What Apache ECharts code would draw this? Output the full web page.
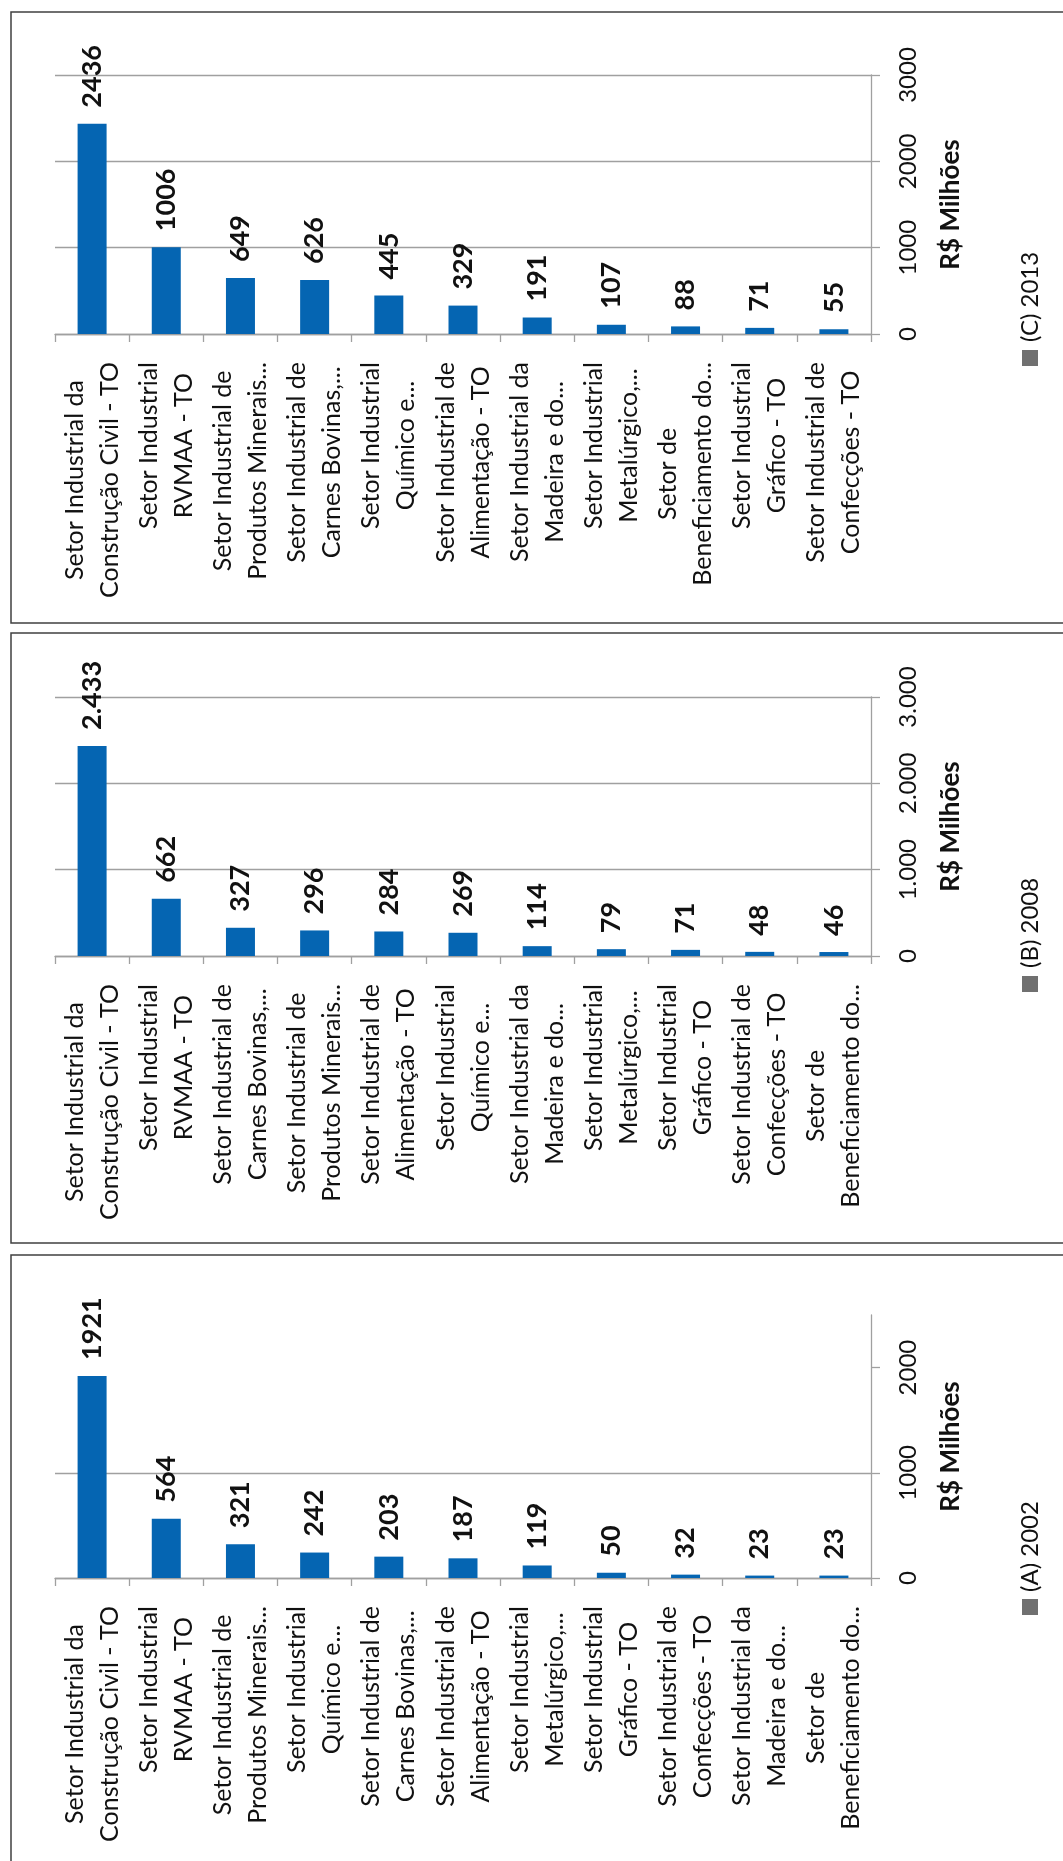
<!DOCTYPE html>
<html><head><meta charset="utf-8">
<script src="https://cdn.jsdelivr.net/npm/echarts@6/dist/echarts.min.js"></script>
<style>html,body{margin:0;padding:0;background:#fff}#c{width:1063px;height:1861px}</style>
</head><body><div id="c"></div>
<script>
// ---- data ----
const catsC = [
  "Setor Industrial da\nConstrução Civil - TO",
  "Setor Industrial\nRVMAA - TO",
  "Setor Industrial de\nProdutos Minerais...",
  "Setor Industrial de\nCarnes Bovinas,...",
  "Setor Industrial\nQuímico e...",
  "Setor Industrial de\nAlimentação - TO",
  "Setor Industrial da\nMadeira e do...",
  "Setor Industrial\nMetalúrgico,...",
  "Setor de\nBeneficiamento do...",
  "Setor Industrial\nGráfico - TO",
  "Setor Industrial de\nConfecções - TO"
];
const valsC = [2436, 1006, 649, 626, 445, 329, 191, 107, 88, 71, 55];

const catsB = [
  "Setor Industrial da\nConstrução Civil - TO",
  "Setor Industrial\nRVMAA - TO",
  "Setor Industrial de\nCarnes Bovinas,...",
  "Setor Industrial de\nProdutos Minerais...",
  "Setor Industrial de\nAlimentação - TO",
  "Setor Industrial\nQuímico e...",
  "Setor Industrial da\nMadeira e do...",
  "Setor Industrial\nMetalúrgico,...",
  "Setor Industrial\nGráfico - TO",
  "Setor Industrial de\nConfecções - TO",
  "Setor de\nBeneficiamento do..."
];
const valsB = [2433, 662, 327, 296, 284, 269, 114, 79, 71, 48, 46];

const catsA = [
  "Setor Industrial da\nConstrução Civil - TO",
  "Setor Industrial\nRVMAA - TO",
  "Setor Industrial de\nProdutos Minerais...",
  "Setor Industrial\nQuímico e...",
  "Setor Industrial de\nCarnes Bovinas,...",
  "Setor Industrial de\nAlimentação - TO",
  "Setor Industrial\nMetalúrgico,...",
  "Setor Industrial\nGráfico - TO",
  "Setor Industrial de\nConfecções - TO",
  "Setor Industrial da\nMadeira e do...",
  "Setor de\nBeneficiamento do..."
];
const valsA = [1921, 564, 321, 242, 203, 187, 119, 50, 32, 23, 23];

const seriesNames = ["(C) 2013", "(B) 2008", "(A) 2002"];
const axisName = "R$ Milhões";
const ticksC = [0, 1000, 2000, 3000];
const ticksB = [0, 1000, 2000, 3000];
const ticksA = [0, 1000, 2000];
const maxA = 2500;

// ---- style ----
const FONT = 'Lato';
const BAR = '#0565B2';
const GRID = '#A0A0A0';
const dotFmt = v => String(v).replace(/\B(?=(\d{3})+(?!\d))/g, '.');
const plainFmt = v => String(v);

const panels = [
  { name: seriesNames[0], cats: catsC, vals: valsC, ticks: ticksC, max: 3000, fmt: plainFmt, top: 75, height: 259, box: [11, 12, 611], leg: [342, 350] },
  { name: seriesNames[1], cats: catsB, vals: valsB, ticks: ticksB, max: 3000, fmt: dotFmt, top: 697, height: 259, box: [11, 633, 610], leg: [968, 976] },
  { name: seriesNames[2], cats: catsA, vals: valsA, ticks: ticksA, max: maxA, fmt: plainFmt, top: 1315, height: 263, box: [11, 1255, 700], leg: [1592, 1599] }
];

const grids = [], xAxes = [], yAxes = [], series = [], graphics = [];
panels.forEach((p, i) => {
  grids.push({ left: 55, width: 816, top: p.top, height: p.height, containLabel: false });
  xAxes.push({
    type: 'category', gridIndex: i, data: p.cats, boundaryGap: true,
    axisLine: { show: true, lineStyle: { color: GRID, width: 1.3 } },
    axisTick: { show: true, length: 8, lineStyle: { color: GRID, width: 1.3 } },
    axisLabel: {
      interval: 0, rotate: 90, margin: 28, color: '#111',
      formatter: v => v.split('\n').map(s => '{c|' + s + '}').join('\n'),
      rich: { c: { align: 'center', fontFamily: FONT, fontSize: 25, lineHeight: 35, color: '#111' } }
    }
  });
  yAxes.push({
    type: 'value', gridIndex: i, position: 'right', min: 0, max: p.max, interval: 1000,
    name: axisName, nameLocation: 'middle', nameRotate: 90, nameGap: 80,
    nameTextStyle: { fontFamily: FONT, fontSize: 26, fontWeight: 'bold', color: '#111', align: 'center', verticalAlign: 'middle' },
    axisLine: { show: true, lineStyle: { color: GRID, width: 1.3 } },
    axisTick: { show: true, length: 9, lineStyle: { color: GRID, width: 1.3 }, customValues: p.ticks },
    splitLine: { show: true, showMaxLine: p.max === p.ticks[p.ticks.length - 1], lineStyle: { color: GRID, width: 1.3 } },
    axisLabel: {
      rotate: 90, margin: 37, align: 'center', verticalAlign: 'middle', customValues: p.ticks,
      fontFamily: FONT, fontSize: 24, color: '#111', formatter: v => p.fmt(v)
    }
  });
  series.push({
    type: 'bar', name: p.name, xAxisIndex: i, yAxisIndex: i, data: p.vals, barWidth: 29,
    itemStyle: { color: BAR },
    label: {
      show: true, position: 'top', rotate: 90, align: 'left', verticalAlign: 'middle', distance: 16,
      fontFamily: FONT, fontSize: 27, fontWeight: 'bold', color: '#111',
      formatter: d => p.fmt(d.value)
    }
  });
  graphics.push({
    type: 'rect', silent: true,
    shape: { x: p.box[0], y: p.box[1], width: 1100, height: p.box[2] },
    style: { fill: null, stroke: '#404040', lineWidth: 1.5 }
  });
  graphics.push({
    type: 'rect', silent: true,
    shape: { x: 1022, y: p.leg[1], width: 16, height: 16 },
    style: { fill: '#707070' }
  });
  graphics.push({
    type: 'text', silent: true, x: 1030, y: p.leg[0], rotation: Math.PI / 2,
    style: { text: p.name, fontFamily: FONT, fontSize: 24, fill: '#111', align: 'left', verticalAlign: 'middle' }
  });
});

const chart = echarts.init(document.getElementById('c'), null, { renderer: 'canvas' });
chart.setOption({
  animation: false,
  backgroundColor: '#fff',
  grid: grids, xAxis: xAxes, yAxis: yAxes, series: series,
  graphic: { elements: graphics }
});
</script></body></html>
